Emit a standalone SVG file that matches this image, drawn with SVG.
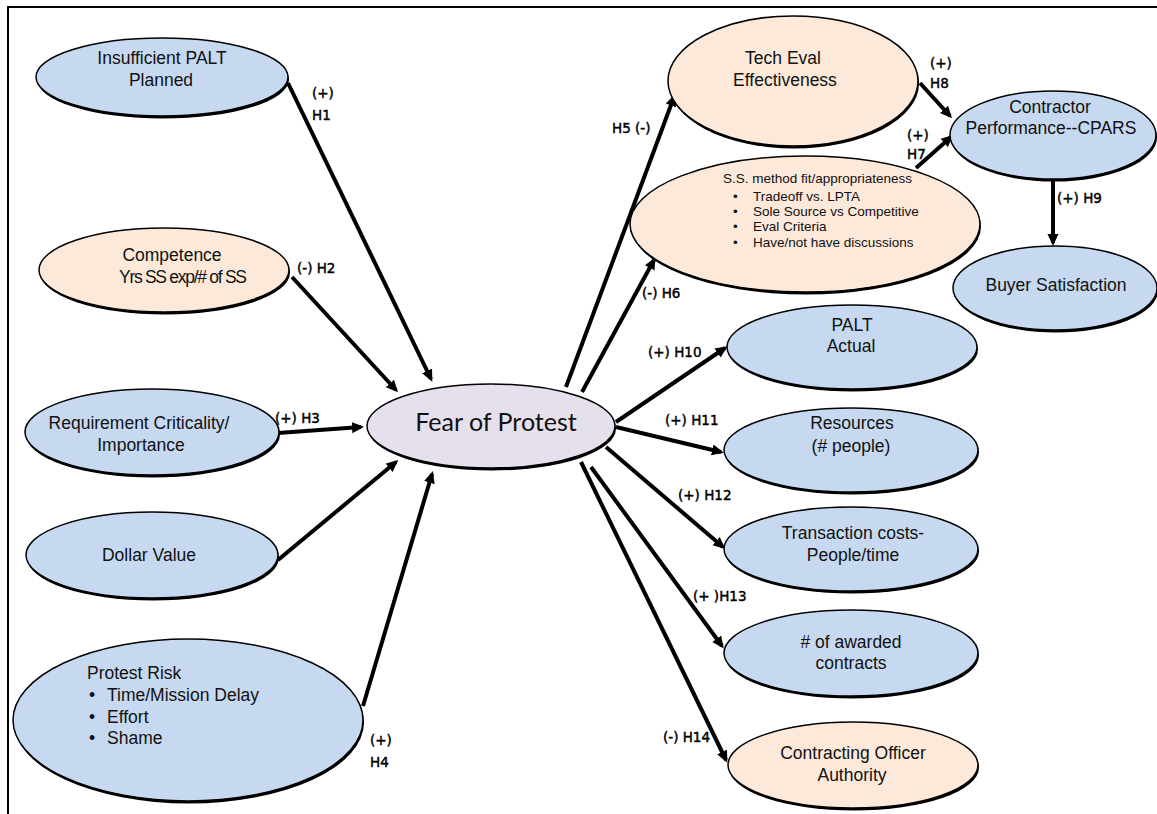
<svg xmlns="http://www.w3.org/2000/svg" width="1157" height="814" viewBox="0 0 1157 814">
<defs>
<style>
.sh{fill:#000}
.blue{fill:#c6d9f0;stroke:#000;stroke-width:1.5}
.peach{fill:#fde9d9;stroke:#000;stroke-width:1.5}
.lav{fill:#e5e0ec;stroke:#000;stroke-width:1.5}
.t{font-family:"Liberation Sans",Arial,sans-serif;font-size:17.5px;fill:#111;text-anchor:middle}
.tl{font-family:"Liberation Sans",Arial,sans-serif;font-size:17.5px;fill:#111}
.ts{font-family:"Liberation Sans",Arial,sans-serif;font-size:13.5px;fill:#111}
.big{font-family:Lato,"Open Sans",sans-serif;font-size:25px;fill:#111;text-anchor:middle}
.lb{font-family:"DejaVu Sans",Verdana,sans-serif;font-size:13.5px;fill:#000;stroke:#000;stroke-width:0.45}
.c{stroke:#000;stroke-width:4;fill:none;marker-end:url(#ah)}
</style>
<marker id="ah" markerUnits="userSpaceOnUse" markerWidth="13" markerHeight="12" refX="9" refY="6" orient="auto">
<path d="M0,0.5 L12,6 L0,11.5 z" fill="#000"/>
</marker>
</defs>
<rect x="0" y="0" width="1157" height="814" fill="#fff"/>
<path d="M8,814 L8,7 L1157,7" fill="none" stroke="#000" stroke-width="2"/>

<g id="connectors">
<line class="c" x1="288" y1="83" x2="431" y2="379"/>
<line class="c" x1="292" y1="277" x2="396" y2="390"/>
<line class="c" x1="278" y1="433" x2="361" y2="427"/>
<line class="c" x1="278" y1="560" x2="396" y2="462"/>
<line class="c" x1="363" y1="706" x2="432" y2="474"/>
<line class="c" x1="566" y1="387" x2="674" y2="97"/>
<line class="c" x1="582" y1="392" x2="654" y2="260"/>
<line class="c" x1="920" y1="83" x2="950" y2="116"/>
<line class="c" x1="916" y1="168" x2="951" y2="137"/>
<line class="c" x1="1053" y1="180" x2="1053" y2="243"/>
<line class="c" x1="616" y1="422" x2="725" y2="348"/>
<line class="c" x1="616" y1="427" x2="721" y2="452"/>
<line class="c" x1="606" y1="447" x2="723" y2="547"/>
<line class="c" x1="591" y1="467" x2="722" y2="646"/>
<line class="c" x1="581" y1="462" x2="726" y2="760"/>
</g>

<g id="labels">
<text class="lb" x="312" y="98">(+)</text>
<text class="lb" x="312" y="120">H1</text>
<text class="lb" x="297" y="273">(-) H2</text>
<text class="lb" x="275" y="423">(+) H3</text>
<text class="lb" x="370" y="745">(+)</text>
<text class="lb" x="370" y="767">H4</text>
<text class="lb" x="612" y="133">H5 (-)</text>
<text class="lb" x="642" y="298">(-) H6</text>
<text class="lb" x="930" y="68">(+)</text>
<text class="lb" x="930" y="88">H8</text>
<text class="lb" x="907" y="140">(+)</text>
<text class="lb" x="907" y="159">H7</text>
<text class="lb" x="1057" y="203">(+) H9</text>
<text class="lb" x="648" y="357">(+) H10</text>
<text class="lb" x="665" y="425">(+) H11</text>
<text class="lb" x="678" y="500">(+) H12</text>
<text class="lb" x="693" y="601">(+ )H13</text>
<text class="lb" x="663" y="742">(-) H14</text>
</g>

<g id="insufficient-palt">
<ellipse class="sh" cx="163" cy="79.5" rx="126" ry="39"/>
<ellipse class="blue" cx="162" cy="77" rx="126" ry="39"/>
<text class="t" x="162" y="64">Insufficient PALT</text>
<text class="t" x="161" y="86">Planned</text>
</g>

<g id="competence">
<ellipse class="sh" cx="165" cy="272.5" rx="125" ry="42"/>
<ellipse class="peach" cx="164" cy="270" rx="125" ry="42"/>
<text class="t" x="172" y="261">Competence</text>
<text class="t" x="183" y="283" textLength="128" lengthAdjust="spacing">Yrs SS exp/# of SS</text>
</g>

<g id="requirement">
<ellipse class="sh" cx="153" cy="434.5" rx="127" ry="43"/>
<ellipse class="blue" cx="152" cy="432" rx="127" ry="43"/>
<text class="t" x="139" y="429">Requirement Criticality/</text>
<text class="t" x="141" y="451">Importance</text>
</g>

<g id="dollar-value">
<ellipse class="sh" cx="153" cy="557.5" rx="126" ry="43"/>
<ellipse class="blue" cx="152" cy="555" rx="126" ry="43"/>
<text class="t" x="149" y="561">Dollar Value</text>
</g>

<g id="protest-risk">
<ellipse class="sh" cx="189" cy="722.5" rx="175" ry="81"/>
<ellipse class="blue" cx="188" cy="720" rx="175" ry="81"/>
<text class="tl" x="87" y="679">Protest Risk</text>
<text class="tl" x="89" y="701">•</text>
<text class="tl" x="107" y="701">Time/Mission Delay</text>
<text class="tl" x="89" y="723">•</text>
<text class="tl" x="107" y="723">Effort</text>
<text class="tl" x="89" y="744">•</text>
<text class="tl" x="107" y="744">Shame</text>
</g>

<g id="fear-of-protest">
<ellipse class="sh" cx="492" cy="428.5" rx="124" ry="42"/>
<ellipse class="lav" cx="491" cy="426" rx="124" ry="42"/>
<text class="big" x="496" y="431">Fear of Protest</text>
</g>

<g id="tech-eval">
<ellipse class="sh" cx="794" cy="83.5" rx="125" ry="65"/>
<ellipse class="peach" cx="793" cy="81" rx="125" ry="65"/>
<text class="t" x="783" y="64">Tech Eval</text>
<text class="t" x="785" y="86">Effectiveness</text>
</g>

<g id="ss-method">
<ellipse class="sh" cx="806" cy="226.5" rx="175" ry="68"/>
<ellipse class="peach" cx="805" cy="224" rx="175" ry="68"/>
<text class="ts" x="723" y="183">S.S. method fit/appropriateness</text>
<text class="ts" x="733" y="201">•</text>
<text class="ts" x="753" y="201">Tradeoff vs. LPTA</text>
<text class="ts" x="733" y="216">•</text>
<text class="ts" x="753" y="216">Sole Source vs Competitive</text>
<text class="ts" x="733" y="231">•</text>
<text class="ts" x="753" y="231">Eval Criteria</text>
<text class="ts" x="733" y="247">•</text>
<text class="ts" x="753" y="247">Have/not have discussions</text>
</g>

<g id="contractor-performance">
<ellipse class="sh" cx="1054" cy="137.5" rx="103" ry="44"/>
<ellipse class="blue" cx="1053" cy="135" rx="103" ry="44"/>
<text class="t" x="1050" y="113">Contractor</text>
<text class="t" x="1051" y="134">Performance--CPARS</text>
</g>

<g id="buyer-satisfaction">
<ellipse class="sh" cx="1056" cy="290.5" rx="102" ry="42"/>
<ellipse class="blue" cx="1055" cy="288" rx="102" ry="42"/>
<text class="t" x="1056" y="291">Buyer Satisfaction</text>
</g>

<g id="palt-actual">
<ellipse class="sh" cx="853" cy="349.5" rx="125" ry="42"/>
<ellipse class="blue" cx="852" cy="347" rx="125" ry="42"/>
<text class="t" x="852" y="331">PALT</text>
<text class="t" x="851" y="352">Actual</text>
</g>

<g id="resources">
<ellipse class="sh" cx="852" cy="452.5" rx="127" ry="42"/>
<ellipse class="blue" cx="851" cy="450" rx="127" ry="42"/>
<text class="t" x="852" y="429">Resources</text>
<text class="t" x="851" y="452">(# people)</text>
</g>

<g id="transaction-costs">
<ellipse class="sh" cx="852" cy="551.5" rx="127" ry="42"/>
<ellipse class="blue" cx="851" cy="549" rx="127" ry="42"/>
<text class="t" x="853" y="539">Transaction costs-</text>
<text class="t" x="853" y="561">People/time</text>
</g>

<g id="awarded-contracts">
<ellipse class="sh" cx="852" cy="655.5" rx="127" ry="43"/>
<ellipse class="blue" cx="851" cy="653" rx="127" ry="43"/>
<text class="t" x="851" y="648">#  of awarded</text>
<text class="t" x="851" y="669">contracts</text>
</g>

<g id="contracting-officer">
<ellipse class="sh" cx="854" cy="767.5" rx="125" ry="43"/>
<ellipse class="peach" cx="853" cy="765" rx="125" ry="43"/>
<text class="t" x="853" y="759">Contracting Officer</text>
<text class="t" x="852" y="781">Authority</text>
</g>
</svg>
